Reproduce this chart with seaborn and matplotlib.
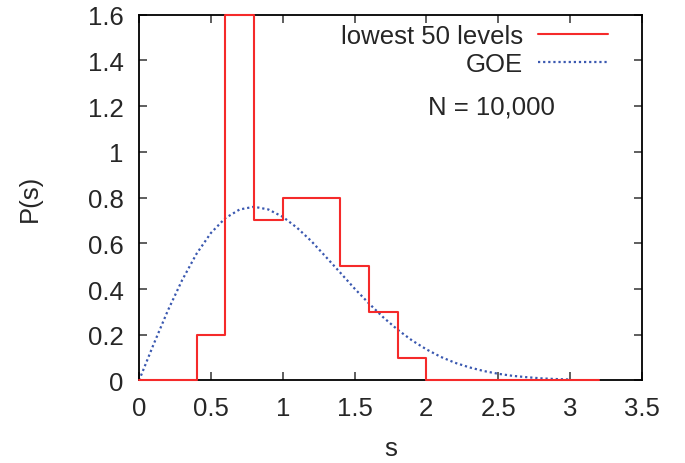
import numpy as np
import pandas as pd
import seaborn as sns
import matplotlib
matplotlib.use("Agg")
import matplotlib.pyplot as plt
from matplotlib.lines import Line2D

# histogram of nearest-neighbour spacings (bin centres, width 0.2)
bin_centers = [0.1, 0.3, 0.5, 0.7, 0.9, 1.1, 1.3, 1.5, 1.7, 1.9,
               2.1, 2.3, 2.5, 2.7, 2.9, 3.1]
bin_heights = [0.0, 0.0, 0.2, 1.6, 0.7, 0.8, 0.8, 0.5, 0.3, 0.1,
               0.0, 0.0, 0.0, 0.0, 0.0, 0.0]
bin_edges = [0.0, 0.2, 0.4, 0.6, 0.8, 1.0, 1.2, 1.4, 1.6, 1.8,
             2.0, 2.2, 2.4, 2.6, 2.8, 3.0, 3.2]

# GOE curve
goe_s = [0.0, 0.1, 0.2, 0.3, 0.4, 0.5, 0.6, 0.7, 0.8, 0.9, 1.0,
         1.1, 1.2, 1.3, 1.4, 1.5, 1.6, 1.7, 1.8, 1.9, 2.0,
         2.1, 2.2, 2.3, 2.4, 2.5, 2.6, 2.7, 2.8, 2.9, 3.0]
goe_p = [0.0, 0.156, 0.305, 0.439, 0.554, 0.645, 0.710, 0.748, 0.760, 0.748, 0.716,
         0.668, 0.609, 0.541, 0.472, 0.402, 0.337, 0.276, 0.222, 0.175, 0.136,
         0.103, 0.077, 0.057, 0.041, 0.029, 0.020, 0.014, 0.009, 0.006, 0.004]

x_ticks = [0, 0.5, 1, 1.5, 2, 2.5, 3, 3.5]
x_tick_labels = ["0", "0.5", "1", "1.5", "2", "2.5", "3", "3.5"]
y_ticks = [0, 0.2, 0.4, 0.6, 0.8, 1.0, 1.2, 1.4, 1.6]
y_tick_labels = ["0", "0.2", "0.4", "0.6", "0.8", "1", "1.2", "1.4", "1.6"]

sns.set_style("ticks")
plt.rcParams["font.family"] = ["Liberation Sans", "DejaVu Sans"]
plt.rcParams["font.size"] = 18.5

red = "#f52a2a"
blue = "#3a58b0"

fig, ax = plt.subplots(figsize=(6.85, 4.64), dpi=100)
fig.subplots_adjust(left=0.203, right=0.937, top=0.966, bottom=0.178)

hist_df = pd.DataFrame({"s": bin_centers, "p": bin_heights})
sns.histplot(data=hist_df, x="s", weights="p", bins=bin_edges, element="step",
             fill=False, color=red, linewidth=1.5, ax=ax)
for line in ax.lines:
    line.set_clip_on(False)
    line.set_zorder(3)

goe_df = pd.DataFrame({"s": goe_s, "p": goe_p})
sns.lineplot(data=goe_df, x="s", y="p", color=blue, linewidth=1.6,
             linestyle=(0, (1, 1.3)), ax=ax)

ax.set_xlim(0, 3.5)
ax.set_ylim(0, 1.6)
ax.set_xticks(x_ticks)
ax.set_xticklabels(x_tick_labels)
ax.set_yticks(y_ticks)
ax.set_yticklabels(y_tick_labels)
ax.tick_params(direction="in", length=6, width=1.1, top=True, right=True,
               color="#333333")
ax.tick_params(axis="x", pad=11)
ax.tick_params(axis="y", pad=11)
for sp in ax.spines.values():
    sp.set_visible(True)
    sp.set_linewidth(1.3)
    sp.set_color("black")

ax.set_xlabel("s", labelpad=12)
ax.set_ylabel("P(s)", labelpad=33)

handles = [Line2D([], [], color=red, linewidth=1.5),
           Line2D([], [], color=blue, linewidth=1.6, linestyle=(0, (1, 1.3)))]
ax.legend(handles, ["lowest 50 levels", "GOE"], loc="upper right",
          bbox_to_anchor=(0.932, 0.975), frameon=False, markerfirst=False,
          handlelength=2.7, handletextpad=0.6, labelspacing=0.15,
          borderpad=0, borderaxespad=0)

ax.text(2.45, 1.2, "N = 10,000", ha="center", va="center")

fig.savefig("out.png", dpi=100)
